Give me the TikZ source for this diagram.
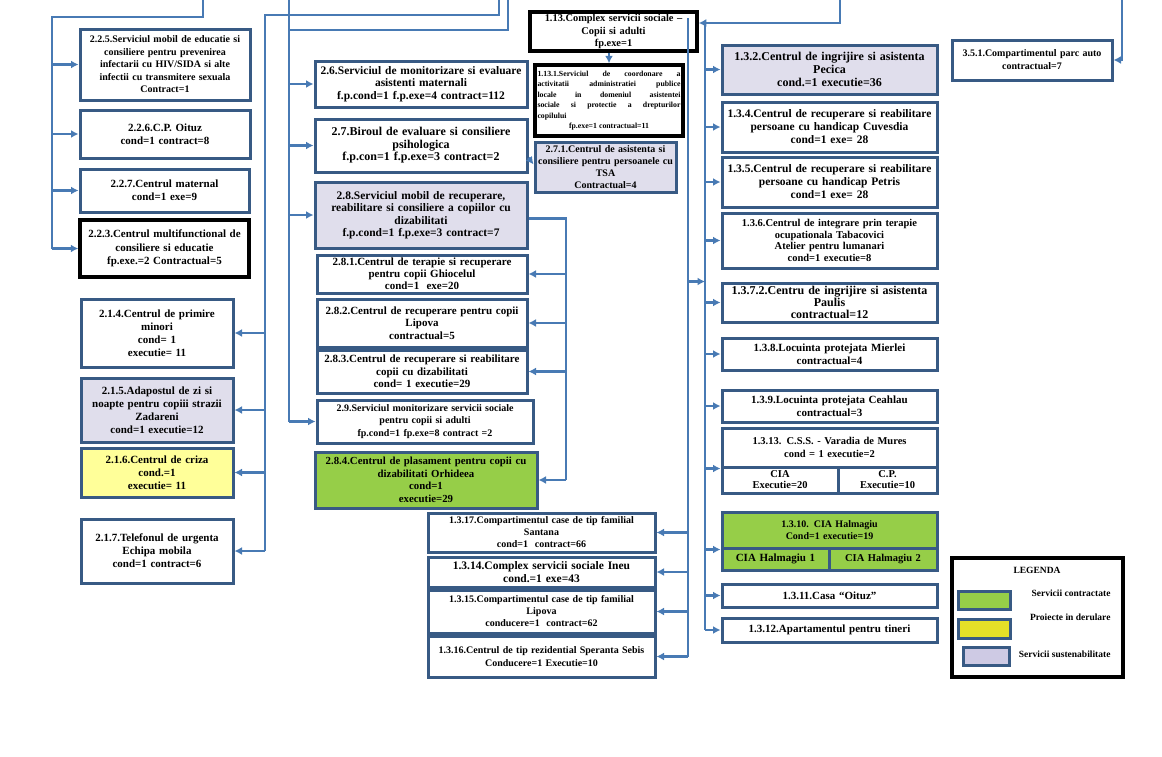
\documentclass[tikz,border=0pt]{standalone}
\usepackage{fontspec}
\setmainfont{Liberation Serif}
\usetikzlibrary{arrows.meta,calc}
\definecolor{bordc}{RGB}{56,90,132}
\definecolor{connc}{RGB}{72,122,180}
\definecolor{lavc}{RGB}{224,222,236}
\definecolor{yelc}{RGB}{255,255,153}
\definecolor{grnc}{RGB}{150,206,72}
\definecolor{lgyel}{RGB}{228,224,40}
\definecolor{lglav}{RGB}{206,202,228}
\hyphenpenalty=10000
\exhyphenpenalty=10000
\newcommand\bfz[2]{\fontsize{#1}{#2}\selectfont\bfseries}
\newcommand\boxat[6]{\pgfmathsetlengthmacro\bxw{#4-#2}\pgfmathsetlengthmacro\bxh{#5-#3}\pgfmathsetlengthmacro\bxt{#4-#2-5}\node[#6,minimum width=\bxw,minimum height=\bxh,text width=\bxt] (#1) at ({(#2+#4)/2},{(#3+#5)/2})}
\tikzset{
 bx/.style={rectangle,draw=bordc,line width=3pt,fill=white,inner sep=0.5pt,align=center,font=\bfz{11}{12.5}},
 bk/.style={bx,draw=black,line width=3.5pt},
 lv/.style={bx,fill=lavc},
 yl/.style={bx,fill=yelc},
 gr/.style={bx,fill=grnc},
 conn/.style={draw=connc,line width=2.8pt},
 arr/.style={draw=connc,line width=2.8pt,-{Latex[length=7.5pt,width=8pt]}},
}
\begin{document}
\begin{tikzpicture}[x=1pt,y=-1pt]
\useasboundingbox (0,0) rectangle (1162,756);
\fill[white] (0,0) rectangle (1162,756);
% ---------- left column
\boxat{n225}{80}{29}{250}{100}{bx,font=\bfz{10}{12.5}}{2.2.5.Serviciul mobil de educatie si\\consiliere pentru prevenirea\\infectarii cu HIV/SIDA si alte\\infectii cu transmitere sexuala\\Contract=1};
\boxat{n226}{80}{110}{250}{158}{bx,font=\bfz{11}{13}}{2.2.6.C.P. Oituz\\cond=1 contract=8};
\boxat{n227}{80}{169}{249}{212}{bx,font=\bfz{11}{13}}{2.2.7.Centrul maternal\\cond=1 exe=9};
\boxat{n223}{80}{220}{249}{277}{bk,font=\bfz{11}{13.5}}{2.2.3.Centrul multifunctional de\\consiliere si educatie\\fp.exe.=2 Contractual=5};
\boxat{n214}{81}{299}{233}{367}{bx,font=\bfz{11}{13}}{2.1.4.Centrul de primire\\minori\\cond= 1\\executie= 11};
\boxat{n215}{81}{378}{233}{442}{lv,font=\bfz{11}{13}}{2.1.5.Adapostul de zi si\\noapte pentru copiii strazii\\Zadareni\\cond=1 executie=12};
\boxat{n216}{81}{448}{233}{497}{yl,font=\bfz{11}{13}}{2.1.6.Centrul de criza\\cond.=1\\executie= 11};
\boxat{n217}{81}{519}{233}{583}{bx,font=\bfz{11}{13}}{2.1.7.Telefonul de urgenta\\Echipa mobila\\cond=1 contract=6};
% ---------- middle column
\boxat{n26}{315}{61}{527}{107}{bx,font=\bfz{11.5}{12.5}}{2.6.Serviciul de monitorizare si evaluare\\asistenti maternali\\f.p.cond=1 f.p.exe=4 contract=112};
\boxat{n27}{315}{119}{527}{172}{bx,font=\bfz{12}{12.5}}{2.7.Biroul de evaluare si consiliere\\psihologica\\f.p.con=1 f.p.exe=3 contract=2};
\boxat{n28}{315}{182}{527}{248}{lv,font=\bfz{11.5}{12.5}}{2.8.Serviciul mobil de recuperare,\\reabilitare si consiliere a copiilor cu\\dizabilitati\\f.p.cond=1 f.p.exe=3 contract=7};
\boxat{n281}{317}{255}{527}{293}{bx,font=\bfz{11}{12.2}}{2.8.1.Centrul de terapie si recuperare\\pentru copii Ghiocelul\\cond=1 \ exe=20};
\boxat{n282}{317}{299}{527}{347}{bx,font=\bfz{11}{12.5}}{2.8.2.Centrul de recuperare pentru copii\\Lipova\\contractual=5};
\boxat{n283}{317}{350}{527}{393}{bx,font=\bfz{11}{12.5}}{2.8.3.Centrul de recuperare si reabilitare\\copii cu dizabilitati\\cond= 1 executie=29};
\boxat{n29}{317}{400}{533}{443}{bx,font=\bfz{10}{12.5}}{2.9.Serviciul monitorizare servicii sociale\\pentru copii si adulti\\fp.cond=1 fp.exe=8 contract =2};
\boxat{n284}{315}{452}{537}{508}{gr,font=\bfz{10.8}{12.5}}{2.8.4.Centrul de plasament pentru copii cu\\dizabilitati Orhideea\\cond=1\\executie=29};
% ---------- 1.13 group
\boxat{n113}{530}{12}{697}{51}{bk,font=\bfz{10.4}{12.3}}{1.13.Complex servicii sociale --\\Copii si adulti\\fp.exe=1};
\boxat{n1131}{535}{65}{683}{136}{bk,align=justify,font=\bfz{7.8}{10.5}}{1.13.1.Serviciul de coordonare a\linebreak activitatii administratiei publice\linebreak locale in domeniul asistentei\linebreak sociale si protectie a drepturilor\linebreak copilului\par{\centering fp.exe=1 contractual=11\par}};
\boxat{n271}{535}{142}{676}{192}{lv,font=\bfz{10}{11.8}}{2.7.1.Centrul de asistenta si\\consiliere pentru persoanele cu\\TSA\\Contractual=4};
\boxat{n1317}{428}{513}{655}{552}{bx,font=\bfz{10}{12}}{1.3.17.Compartimentul case de tip familial\\Santana\\cond=1 \ contract=66};
\boxat{n1314}{428}{557}{655}{587}{bx,font=\bfz{11.5}{12.5}}{1.3.14.Complex servicii sociale Ineu\\cond.=1 exe=43};
\boxat{n1315}{428}{590}{655}{633}{bx,font=\bfz{10}{12}}{1.3.15.Compartimentul case de tip familial\\Lipova\\conducere=1 \ contract=62};
\boxat{n1316}{428}{636}{655}{677}{bx,font=\bfz{10}{12.5}}{1.3.16.Centrul de tip rezidential Speranta Sebis\\Conducere=1 Executie=10};
% ---------- right column
\boxat{n132}{722}{45}{937}{94}{lv,font=\bfz{12}{13}}{1.3.2.Centrul de ingrijire si asistenta\\Pecica\\cond.=1 executie=36};
\boxat{n134}{722}{102}{937}{152}{bx,font=\bfz{11.5}{13}}{1.3.4.Centrul de recuperare si reabilitare\\persoane cu handicap Cuvesdia\\cond=1 exe= 28};
\boxat{n135}{722}{157}{937}{207}{bx,font=\bfz{11.5}{13}}{1.3.5.Centrul de recuperare si reabilitare\\persoane cu handicap Petris\\cond=1 exe= 28};
\boxat{n136}{722}{213}{937}{268}{bx,font=\bfz{10.5}{11.7}}{1.3.6.Centrul de integrare prin terapie\\ocupationala Tabacovici\\Atelier pentru lumanari\\cond=1 executie=8};
\boxat{n1372}{722}{283}{937}{322}{bx,font=\bfz{12}{12}}{1.3.7.2.Centru de ingrijire si asistenta\\Paulis\\contractual=12};
\boxat{n138}{722}{338}{937}{370}{bx,font=\bfz{11}{13}}{1.3.8.Locuinta protejata Mierlei\\contractual=4};
\boxat{n139}{722}{390}{937}{422}{bx,font=\bfz{11}{13}}{1.3.9.Locuinta protejata Ceahlau\\contractual=3};
\boxat{n1313t}{722}{428}{937}{467}{bx,font=\bfz{10.5}{12.5}}{1.3.13. C.S.S. - Varadia de Mures\\cond = 1 executie=2};
\boxat{n1313a}{722}{467}{838}{493}{bx,font=\bfz{10.5}{11}}{CIA\\Executie=20};
\boxat{n1313b}{838}{467}{937}{493}{bx,font=\bfz{10.5}{11}}{C.P.\\Executie=10};
\boxat{n1310t}{722}{512}{937}{548}{gr,font=\bfz{10}{12}}{1.3.10. CIA Halmagiu\\Cond=1 executie=19};
\boxat{n1310a}{722}{548}{829}{570}{gr,font=\bfz{11}{12}}{CIA Halmagiu 1};
\boxat{n1310b}{829}{548}{937}{570}{gr,font=\bfz{10.5}{12}}{CIA Halmagiu 2};
\boxat{n1311}{722}{584}{937}{607}{bx,font=\bfz{11}{13}}{1.3.11.Casa “Oituz”};
\boxat{n1312}{722}{618}{937}{642}{bx,font=\bfz{11}{13}}{1.3.12.Apartamentul pentru tineri};
\boxat{n351}{952}{40}{1112}{80}{bx,font=\bfz{10}{13}}{3.5.1.Compartimentul parc auto\\contractual=7};
% ---------- legend
\node[draw=black,line width=3.5pt,minimum width=171pt,minimum height=119pt] (leg) at (1037.5,617.5) {};
\node[font=\bfz{9.5}{11}] (legt) at (1037,570) {LEGENDA};
\boxat{sw1}{958}{591}{1010}{609}{gr}{};
\boxat{sw2}{958}{619}{1010}{638}{bx,fill=lgyel}{};
\boxat{sw3}{963}{647}{1009}{665}{bx,fill=lglav}{};
\node[anchor=east,font=\bfz{9.5}{11}] (lt1) at (1114,593) {Servicii contractate};
\node[anchor=east,font=\bfz{9.5}{11}] (lt2) at (1114,617) {Proiecte in derulare};
\node[anchor=east,font=\bfz{9.5}{11}] (lt3) at (1114,654) {Servicii sustenabilitate};
% ---------- connectors
% trunk A (2.2.x)
\coordinate (A0) at (203,0);
\coordinate (A1) at (52,17);
\draw[conn] (A0) |- (A1) -- (A1 |- n223.west);
\foreach \n in {n225,n226,n227,n223} \draw[arr] (A1 |- \n.west) -- (\n.west);
% trunk B (2.1.x)
\coordinate (B0) at (499,0);
\coordinate (B1) at (265,15);
\draw[conn] (B0) |- (B1) -- (B1 |- n217.east);
\foreach \n in {n214,n215,n216,n217} \draw[arr] (B1 |- \n.east) -- (\n.east);
% trunk C (2.6 - 2.9)
\coordinate (C0) at (508,0);
\coordinate (C1) at (289,30);
\coordinate (C2) at (289,0);
\draw[conn] (C0) |- (C1);
\draw[conn] (C2) -- (C2 |- n29.west);
\foreach \n in {n26,n27,n28,n29} \draw[arr] (C2 |- \n.west) -- (\n.west);
% 2.8 -> 2.8.x
\coordinate (D0) at ($(n28.north east)!0.55!(n28.south east)$);
\coordinate (D1) at (566,0);
\draw[conn] (D0) -- (D1 |- D0) -- (D1 |- n284.east);
\foreach \n in {n281,n282,n283,n284} \draw[arr] (D1 |- \n.east) -- (\n.east);
% 2.7 -> 2.7.1
\draw[arr] ($(n27.north east)!0.72!(n27.south east)$) -- ($(n271.north west)!0.45!(n271.south west)$);
% 1.13 -> 1.13.1
\draw[arr] (n1131.north |- n113.south) -- (n1131.north);
% top line into 1.13
\coordinate (G0) at (840,0);
\coordinate (G1) at ($(n113.north east)!0.3!(n113.south east)$);
\draw[arr] (G0) |- (G1);
% right trunk
\coordinate (Fx) at (705,0);
\coordinate (F0) at (Fx |- G1);
\draw[conn] (F0) -- (F0 |- n1312.west);
\foreach \n in {n132,n134,n135,n136,n1372,n138,n139,n1311,n1312} \draw[arr] (F0 |- \n.west) -- (\n.west);
\draw[arr] (F0 |- n1313t.south west) -- (n1313t.south west);
\draw[arr] (F0 |- n1310t.south west) -- (n1310t.south west);
% line from 1.13
\coordinate (E0) at (688,18);
\draw[conn] (E0) -- (E0 |- n1316.east);
\foreach \n in {n1317,n1314,n1315,n1316} \draw[arr] (E0 |- \n.east) -- (\n.east);
\draw[arr] (E0 |- n1372.north) -- (F0 |- n1372.north);
% 3.5.1
\coordinate (Z0) at (1122,0);
\draw[arr] (Z0) |- (n351.east);
\end{tikzpicture}
\end{document}
